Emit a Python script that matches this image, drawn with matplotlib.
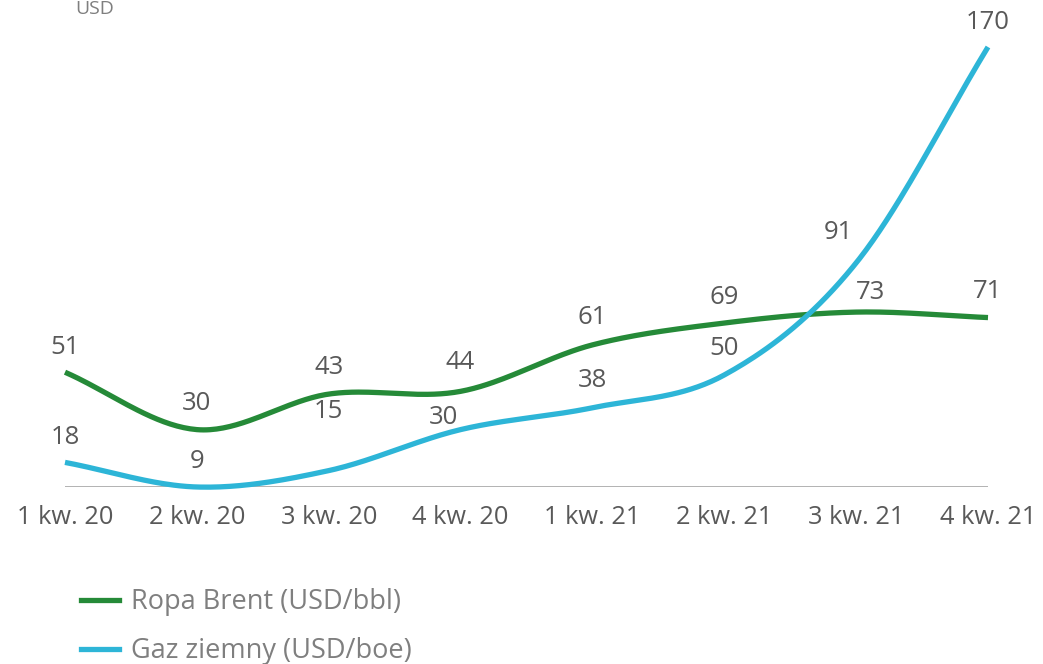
import numpy as np
import matplotlib
matplotlib.use("Agg")
import matplotlib.pyplot as plt
from matplotlib.lines import Line2D

categories = ["1 kw. 20", "2 kw. 20", "3 kw. 20", "4 kw. 20", "1 kw. 21", "2 kw. 21", "3 kw. 21", "4 kw. 21"]
brent = [51, 30, 43, 44, 61, 69, 73, 71]
gas = [18, 9, 15, 30, 38, 50, 91, 170]
series_names = ["Ropa Brent (USD/bbl)", "Gaz ziemny (USD/boe)"]
unit_label = "USD"

# label offsets in pixels (dx, dy above point), styling only
brent_offsets = [(0, 25), (0, 26), (0, 27), (0, 29), (0, 27), (0, 26), (14, 20), (0, 26)]
gas_offsets = [(0, 25), (0, 26), (0, 59), (-17, 12), (0, 27), (0, 26), (-18, 30), (0, 25)]

GREEN = "#258a38"
CYAN = "#2db5d7"
TXT = "#595959"
LEG = "#7f7f7f"

plt.rcParams['font.family'] = ['Open Sans', 'DejaVu Sans']


def smooth(y, n=40):
    y = np.asarray(y, float)
    x = np.arange(len(y), dtype=float)
    p = np.concatenate([[2 * y[0] - y[1]], y, [2 * y[-1] - y[-2]]])
    xs, ys = [], []
    for i in range(len(y) - 1):
        p0, p1, p2, p3 = p[i], p[i + 1], p[i + 2], p[i + 3]
        t = np.linspace(0, 1, n, endpoint=(i == len(y) - 2))
        yy = 0.5 * ((2 * p1) + (-p0 + p2) * t + (2 * p0 - 5 * p1 + 4 * p2 - p3) * t ** 2
                    + (-p0 + 3 * p1 - 3 * p2 + p3) * t ** 3)
        xs.append(x[i] + t)
        ys.append(yy)
    return np.concatenate(xs), np.concatenate(ys)


fig = plt.figure(figsize=(10.43, 6.64), dpi=100)
ax = fig.add_axes([65 / 1043, (664 - 487) / 664, (988 - 65) / 1043, 487 / 664])
ax.set_xlim(0, len(categories) - 1)
ax.set_ylim(9, 187.2)

px = 72 / 100  # pixels -> points
for vals, col, offs in [(brent, GREEN, brent_offsets), (gas, CYAN, gas_offsets)]:
    xs, ys = smooth(vals)
    ax.plot(xs, ys, color=col, lw=3.8, solid_capstyle='butt', clip_on=False, zorder=3)
    for i, v in enumerate(vals):
        dx, dy = offs[i]
        ax.annotate(str(v), (i, v), xytext=(dx * px, dy * px), textcoords='offset points',
                    ha='center', va='center', fontsize=18.5, color=TXT, zorder=4)

ax.axhline(9, color="#a6a6a6", lw=1.2, zorder=2)
for s in ax.spines.values():
    s.set_visible(False)
ax.set_yticks([])
ax.set_xticks(range(len(categories)))
ax.set_xticklabels(categories, fontsize=18.3, color=TXT)
ax.tick_params(axis='x', length=0, pad=13)

fig.text(95 / 1043, 1.0, unit_label, ha='center', va='top', fontsize=14, color=LEG)

handles = [Line2D([], [], color=GREEN, lw=3.8), Line2D([], [], color=CYAN, lw=3.8)]
fig.legend(handles, series_names, loc='upper left', bbox_to_anchor=(81 / 1043, 1 - 588 / 664),
           frameon=False, fontsize=19.5, labelcolor=LEG, handlelength=1.4, handletextpad=0.45,
           labelspacing=0.78, borderpad=0, borderaxespad=0)

fig.savefig("out.png", dpi=100)
